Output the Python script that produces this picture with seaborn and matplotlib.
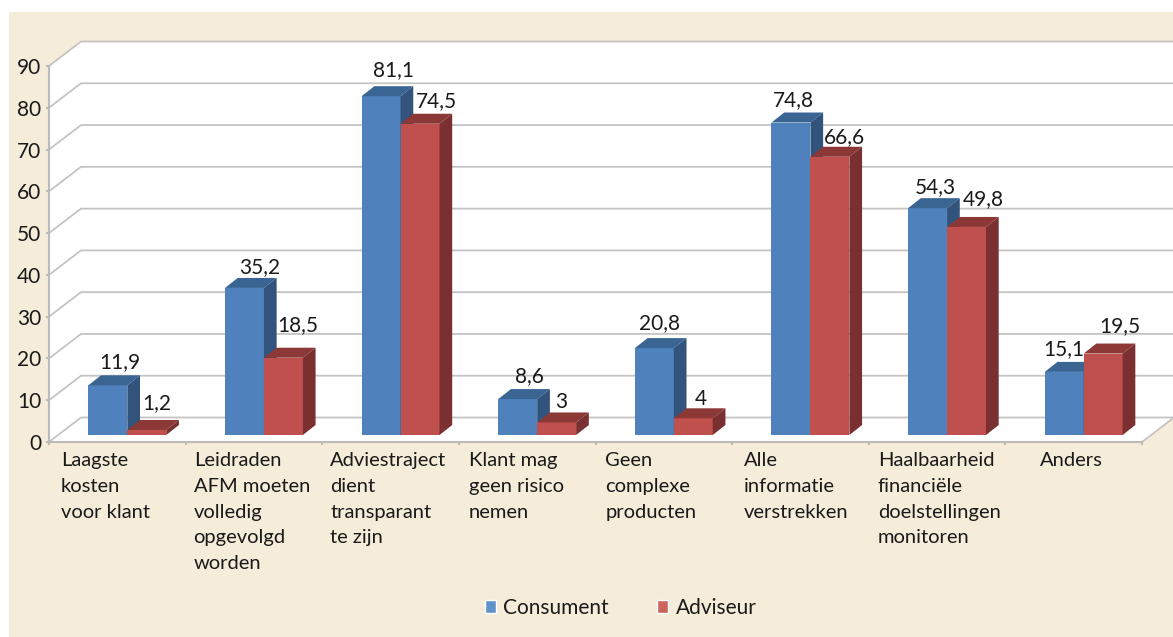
import matplotlib
matplotlib.use("Agg")
import matplotlib.pyplot as plt
import pandas as pd
import seaborn as sns
from matplotlib.patches import Patch, Polygon, Rectangle
from matplotlib.transforms import ScaledTranslation

categories = [
    "Laagste\nkosten\nvoor klant",
    "Leidraden\nAFM moeten\nvolledig\nopgevolgd\nworden",
    "Adviestraject\ndient\ntransparant\nte zijn",
    "Klant mag\ngeen risico\nnemen",
    "Geen\ncomplexe\nproducten",
    "Alle\ninformatie\nverstrekken",
    "Haalbaarheid\nfinanciële\ndoelstellingen\nmonitoren",
    "Anders",
]
consument = [11.9, 35.2, 81.1, 8.6, 20.8, 74.8, 54.3, 15.1]
adviseur = [1.2, 18.5, 74.5, 3, 4, 66.6, 49.8, 19.5]
y_ticks = [0, 10, 20, 30, 40, 50, 60, 70, 80, 90]

W, H = 1173, 637
BEIGE = "#F5EDDA"
GRID = "#C6C4C2"
FONT_SIZE = 15
CATEGORY_SIZE = 14.5

# pixel layout of the front plane
X0, X1 = 49, 1142
Y0, Y90 = 442, 66
SLOT = (X1 - X0) / 8
UNIT = (Y0 - Y90) / 90
WALL_DX, WALL_DY = 32, 24.5   # depth of the back wall
BAR_DX, BAR_DY = 12.7, 10     # depth of a bar
BAR_SHIFT_X, BAR_SHIFT_Y = 10, 7

# label nudges in pixels, estimated per bar
label_dx = {"Consument": [12, 15, 12, 12, 5, 2, 8, 0], "Adviseur": [10, 14, 16, 5, 8, 15, 17, 17]}
label_dy = {"Consument": [23, 21, 26, 23, 25, 22, 21, 23], "Adviseur": [27, 33, 23, 20, 19, 20, 28, 27]}
tick_label_dx = [12, 8, 8, 10, 10, 12, 9, 35]

df = pd.DataFrame({
    "categorie": categories * 2,
    "waarde": consument + adviseur,
    "reeks": ["Consument"] * 8 + ["Adviseur"] * 8,
})
raw = {"Consument": consument, "Adviseur": adviseur}
front = {"Consument": "#4F81BD", "Adviseur": "#C0504D"}
top = {"Consument": "#3A6593", "Adviseur": "#8C3836"}
side = {"Consument": "#31537C", "Adviseur": "#7A3030"}

sns.set_theme(style="white")
plt.rcParams["font.family"] = ["Lato", "DejaVu Sans"]
plt.rcParams["text.color"] = "#1A1A1A"
plt.rcParams["xtick.labelcolor"] = "#1A1A1A"
plt.rcParams["ytick.labelcolor"] = "#1A1A1A"

fig = plt.figure(figsize=(W / 100, H / 100), dpi=100, facecolor="white")
fig.patches.append(Rectangle((9 / W, 0), 1 - 9 / W, 1 - 12 / H, transform=fig.transFigure,
                             facecolor=BEIGE, edgecolor="none", zorder=-5))

rect = [X0 / W, 1 - Y0 / H, (X1 - X0) / W, (Y0 - Y90) / H]

# walls, floor and gridlines
frame = fig.add_axes(rect, zorder=1)
frame.patch.set_visible(False)
frame.set_xlim(0, 8)
frame.set_ylim(0, 90)
d_x = WALL_DX / SLOT
d_y = WALL_DY / UNIT
frame.add_patch(Polygon([(0, 0), (0, 90), (d_x, 90 + d_y), (8 + d_x, 90 + d_y), (8 + d_x, d_y), (8, 0)],
                        closed=True, facecolor="white", edgecolor="none", clip_on=False, zorder=0))
for v in y_ticks:
    frame.plot([0, d_x, 8 + d_x], [v, v + d_y, v + d_y], color=GRID, lw=1.3, clip_on=False, zorder=1)
frame.plot([8, 8 + d_x], [0, d_y], color=GRID, lw=1.3, clip_on=False, zorder=1)

for name in ["top", "right"]:
    frame.spines[name].set_visible(False)
for name in ["left", "bottom"]:
    frame.spines[name].set_color("#BDBBB9")
    frame.spines[name].set_linewidth(1.5)
frame.set_yticks(y_ticks)
frame.set_xticks(range(9), categories + [""], ha="left", va="top", multialignment="left")
frame.tick_params(axis="both", length=2.5, width=1.5, color="#BDBBB9", labelsize=FONT_SIZE, pad=3, left=True, bottom=True)
frame.tick_params(axis="x", pad=5, labelsize=CATEGORY_SIZE)
for lab, dx in zip(frame.get_xticklabels(), tick_label_dx):
    lab.set_transform(lab.get_transform() + ScaledTranslation(dx / 100, 0, fig.dpi_scale_trans))
    lab.set_linespacing(1.62)

# bars sit a little behind the front plane
ax = fig.add_axes(rect, zorder=2)
sns.barplot(data=df, x="categorie", y="waarde", hue="reeks", hue_order=["Consument", "Adviseur"],
            palette=front, width=0.57, saturation=1, legend=False, ax=ax)
ax.set_xlim((-SLOT / 2 - BAR_SHIFT_X) / SLOT, 8 - (SLOT / 2 + BAR_SHIFT_X) / SLOT)
ax.set_ylim(-BAR_SHIFT_Y / UNIT, 90 - BAR_SHIFT_Y / UNIT)
ax.axis("off")

bx = BAR_DX / SLOT
by = BAR_DY / UNIT
for order, (series, container) in enumerate(zip(["Consument", "Adviseur"], ax.containers)):
    for i, bar in enumerate(container):
        x, w, h = bar.get_x(), bar.get_width(), bar.get_height()
        bar.set_linewidth(0)
        bar.set_zorder(3 + order)
        ax.add_patch(Polygon([(x, h), (x + bx, h + by), (x + w + bx, h + by), (x + w, h)],
                             facecolor=top[series], edgecolor="none", zorder=3 + order))
        ax.add_patch(Polygon([(x + w, 0), (x + w + bx, by), (x + w + bx, h + by), (x + w, h)],
                             facecolor=side[series], edgecolor="none", zorder=3 + order))
        text = f"{raw[series][i]:g}".replace(".", ",")
        ax.annotate(text, (x + w / 2, h), xytext=(label_dx[series][i], label_dy[series][i]),
                    textcoords="offset pixels", ha="center", va="center", fontsize=FONT_SIZE, zorder=6,
                    annotation_clip=False)

handles = [Patch(facecolor="#6094C8", label="Consument"), Patch(facecolor="#CC6560", label="Adviseur")]
fig.legend(handles=handles, ncols=2, frameon=False, loc="center", bbox_to_anchor=(620.5 / W, 1 - 608 / H),
           fontsize=FONT_SIZE, handlelength=0.55, handleheight=0.55, handletextpad=0.35, columnspacing=2.3,
           borderpad=0)

fig.savefig("out.png", dpi=100, facecolor=fig.get_facecolor())
plt.close(fig)
